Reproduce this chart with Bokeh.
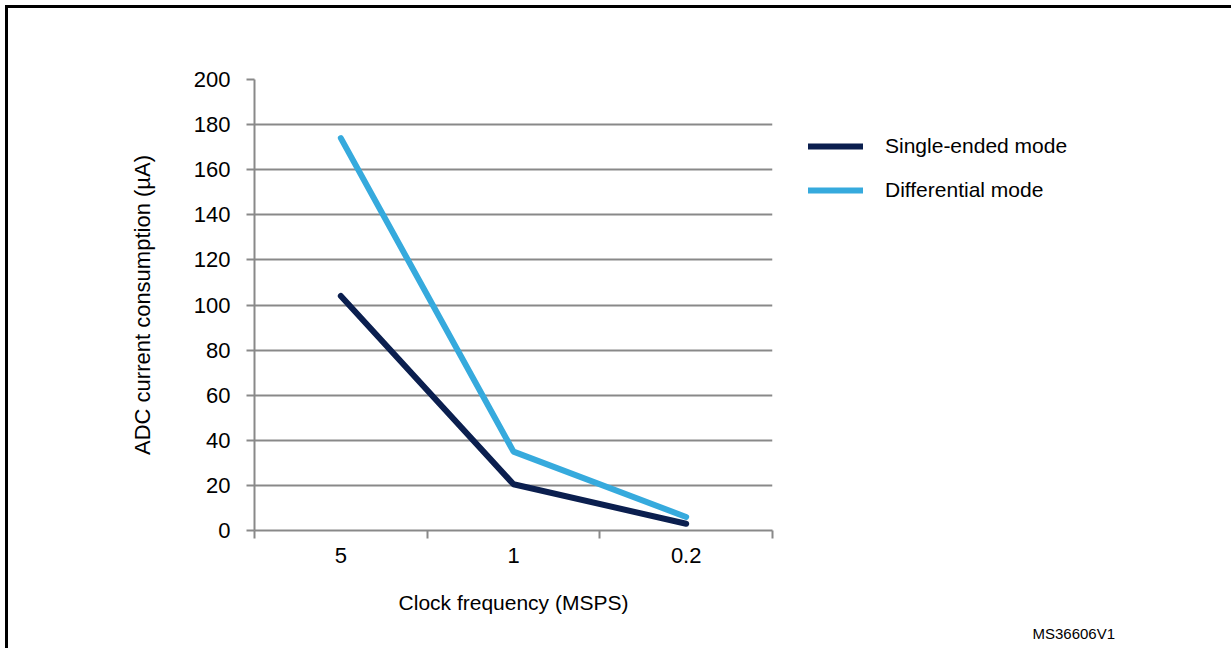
from bokeh.plotting import figure
from bokeh.models import Range1d, FixedTicker, Legend, LegendItem, Title
from bokeh.embed import file_html
from bokeh.resources import INLINE

# ---- data ----
categories = ["5", "1", "0.2"]          # Clock frequency (MSPS)
single_ended = [104, 20.5, 3.0]        # ADC current consumption (uA)
differential = [174, 35.0, 6.0]
y_ticks = [0, 20, 40, 60, 80, 100, 120, 140, 160, 180, 200]

FONT = "Liberation Sans"
GRID = "#898989"
NAVY = "#0b1f4f"
LIGHT = "#36aadd"

n = len(categories)
xs = [i + 0.5 for i in range(n)]

p = figure(frame_width=518, frame_height=451, output_backend="svg", toolbar_location=None,
           x_range=Range1d(0, n), y_range=Range1d(y_ticks[0], y_ticks[-1]),
           min_border_left=246, min_border_right=200, min_border_top=71, min_border_bottom=118)
p.outline_line_color = None
p.background_fill_color = "white"
p.border_fill_color = "white"
p.styles = {"border-left": "3px solid black", "border-top": "3px solid black",
            "border-right": "none", "border-bottom": "none",
            "margin-left": "5px", "margin-top": "5px"}

# lines
r1 = p.line(xs, single_ended, line_color=NAVY, line_width=6, line_cap="round")
r2 = p.line(xs, differential, line_color=LIGHT, line_width=6, line_cap="round")

# x axis
xa = p.xaxis[0]
xa.ticker = FixedTicker(ticks=xs, minor_ticks=list(range(n + 1)))
xa.major_label_overrides = {x: c for x, c in zip(xs, categories)}
xa.major_tick_out = 0
xa.major_tick_in = 0
xa.minor_tick_out = 8
xa.minor_tick_in = 0
xa.minor_tick_line_color = GRID
xa.minor_tick_line_width = 2
xa.axis_line_color = GRID
xa.axis_line_width = 2
xa.major_label_text_font = FONT
xa.major_label_text_font_size = "22px"
xa.major_label_text_color = "black"
xa.major_label_standoff = 9
xa.axis_label = "Clock frequency (MSPS)"
xa.axis_label_text_font = FONT
xa.axis_label_text_font_size = "21px"
xa.axis_label_text_font_style = "normal"
xa.axis_label_text_color = "black"
xa.axis_label_standoff = 25

# y axis
ya = p.yaxis[0]
ya.ticker = FixedTicker(ticks=y_ticks)
ya.major_tick_out = 8
ya.major_tick_in = 0
ya.minor_tick_out = 0
ya.minor_tick_in = 0
ya.major_tick_line_color = GRID
ya.major_tick_line_width = 2
ya.axis_line_color = GRID
ya.axis_line_width = 2
ya.major_label_text_font = FONT
ya.major_label_text_font_size = "22px"
ya.major_label_text_color = "black"
ya.major_label_standoff = 16
ya.axis_label = "ADC current consumption (\u00b5A)"
ya.axis_label_text_font = FONT
ya.axis_label_text_font_size = "22px"
ya.axis_label_text_font_style = "normal"
ya.axis_label_text_color = "black"
ya.axis_label_standoff = 36

p.xgrid.grid_line_color = None
p.ygrid.ticker = FixedTicker(ticks=y_ticks)
p.ygrid.grid_line_color = GRID
p.ygrid.grid_line_width = 2

# legend (side panel on the right)
legend = Legend(items=[LegendItem(label="Single-ended mode", renderers=[r1]),
                       LegendItem(label="Differential mode", renderers=[r2])],
                location=(36, 328), orientation="vertical",
                glyph_width=55, glyph_height=20, label_height=20, label_standoff=22,
                spacing=20, padding=0, margin=0,
                label_text_font=FONT, label_text_font_size="21px", label_text_color="black",
                border_line_alpha=0, background_fill_alpha=0)
p.add_layout(legend, "right")

# document reference note
note = Title(text="MS36606V1", align="left", offset=778, standoff=13,
             text_font=FONT, text_font_size="15px", text_font_style="normal",
             text_color="black")
p.add_layout(note, "below")

open("out.html", "w").write(file_html(p, INLINE))
